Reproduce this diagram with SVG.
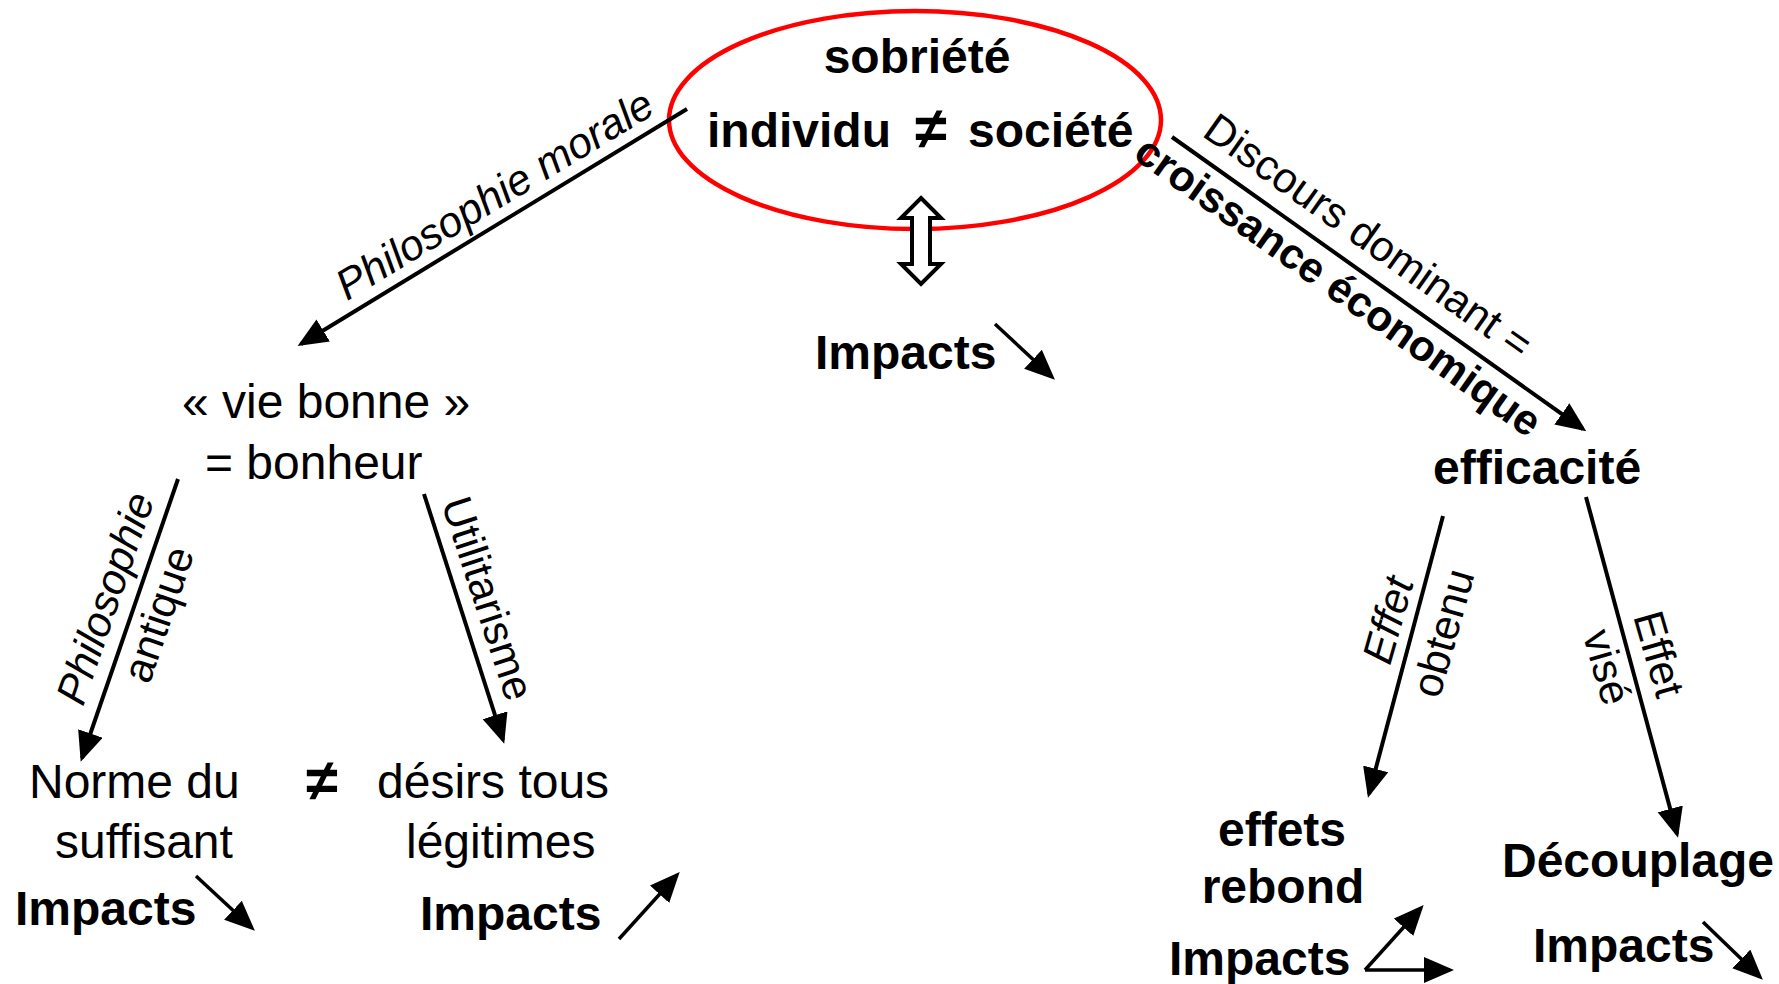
<svg xmlns="http://www.w3.org/2000/svg" width="1779" height="984" viewBox="0 0 1779 984">
<style>
text{font-family:"Liberation Sans",Arial,sans-serif;fill:#000}
.n{font-size:48px}
.b{font-size:48px;font-weight:bold}
.ne{font-size:58px;font-weight:bold}
.l{font-size:42.67px}
.li{font-size:42.67px;font-style:italic}
.lb{font-size:42.67px;font-weight:bold}
.c{stroke:#000;stroke-width:4;fill:none;marker-end:url(#ah)}
.s{stroke:#000;stroke-width:3.5;fill:none;marker-end:url(#ah)}
</style>
<defs>
<marker id="ah" markerUnits="userSpaceOnUse" markerWidth="32" markerHeight="28" refX="26" refY="13" orient="auto">
<path d="M0,0 L30,13 L0,26 z" fill="#000"/>
</marker>
</defs>
<rect width="1779" height="984" fill="#fff"/>

<g id="sobriete">
<ellipse cx="915" cy="120" rx="246" ry="109" fill="none" stroke="#f00" stroke-width="4.5"/>
<text class="b" x="917" y="73" text-anchor="middle">sobriété</text>
<text class="b" x="707" y="147">individu</text>
<text class="ne" x="931" y="148" text-anchor="middle">≠</text>
<text class="b" x="968" y="147">société</text>
</g>

<g id="impacts-centre">
<text class="b" x="815" y="369">Impacts</text>
</g>

<g id="vie-bonne">
<text class="n" x="182" y="418">« vie bonne »</text>
<text class="n" x="205" y="479">= bonheur</text>
</g>

<g id="norme">
<text class="n" x="29" y="798">Norme du</text>
<text class="n" x="55" y="858">suffisant</text>
<text class="b" x="15" y="925">Impacts</text>
</g>

<g id="different">
<text class="ne" x="322" y="800" text-anchor="middle">≠</text>
</g>

<g id="desirs">
<text class="n" x="377" y="798">désirs tous</text>
<text class="n" x="406" y="858">légitimes</text>
<text class="b" x="420" y="930">Impacts</text>
</g>

<g id="efficacite">
<text class="b" x="1433" y="484">efficacité</text>
</g>

<g id="effets-rebond">
<text class="b" x="1282" y="846" text-anchor="middle">effets</text>
<text class="b" x="1283" y="903" text-anchor="middle">rebond</text>
<text class="b" x="1169" y="975">Impacts</text>
</g>

<g id="decouplage">
<text class="b" x="1502" y="877">Découplage</text>
<text class="b" x="1533" y="962">Impacts</text>
</g>

<g id="connectors">
<polygon points="921,198 941,218 930,218 930,264 941,264 921,284 901,264 912,264 912,218 901,218" fill="#fff" stroke="#000" stroke-width="4"/>
<line class="c" x1="687" y1="109" x2="301" y2="344"/>
<line class="c" x1="178" y1="479" x2="82" y2="758"/>
<line class="c" x1="424" y1="494" x2="503" y2="740"/>
<line class="c" x1="1172" y1="137" x2="1583" y2="429"/>
<line class="c" x1="1443" y1="516" x2="1369" y2="794"/>
<line class="c" x1="1586" y1="497" x2="1677" y2="834"/>
<line class="s" x1="995" y1="324" x2="1052" y2="377"/>
<line class="s" x1="196" y1="876" x2="252" y2="928"/>
<line class="s" x1="619" y1="939" x2="677" y2="875"/>
<line class="s" x1="1365" y1="970" x2="1421" y2="908"/>
<line class="s" x1="1365" y1="970" x2="1450" y2="970"/>
<line class="s" x1="1703" y1="922" x2="1760" y2="977"/>
<text class="li" text-anchor="middle" transform="translate(502,207) rotate(-31.3)">Philosophie morale</text>
<text class="l" text-anchor="middle" transform="translate(1360,248) rotate(35.3)">Discours dominant =</text>
<text class="lb" text-anchor="middle" transform="translate(1330,298) rotate(35.3)">croissance économique</text>
<text class="li" text-anchor="middle" transform="translate(119,603) rotate(-71)">Philosophie</text>
<text class="l" text-anchor="middle" transform="translate(172,619) rotate(-71)">antique</text>
<text class="l" text-anchor="middle" transform="translate(474,603) rotate(71.8)">Utilitarisme</text>
<text class="li" text-anchor="middle" transform="translate(1402,624) rotate(-74.1)">Effet</text>
<text class="l" text-anchor="middle" transform="translate(1457,637) rotate(-74.1)">obtenu</text>
<text class="l" text-anchor="middle" transform="translate(1645,658) rotate(73.9)">Effet</text>
<text class="l" text-anchor="middle" transform="translate(1593,671) rotate(73.9)">visé</text>
</g>
</svg>
